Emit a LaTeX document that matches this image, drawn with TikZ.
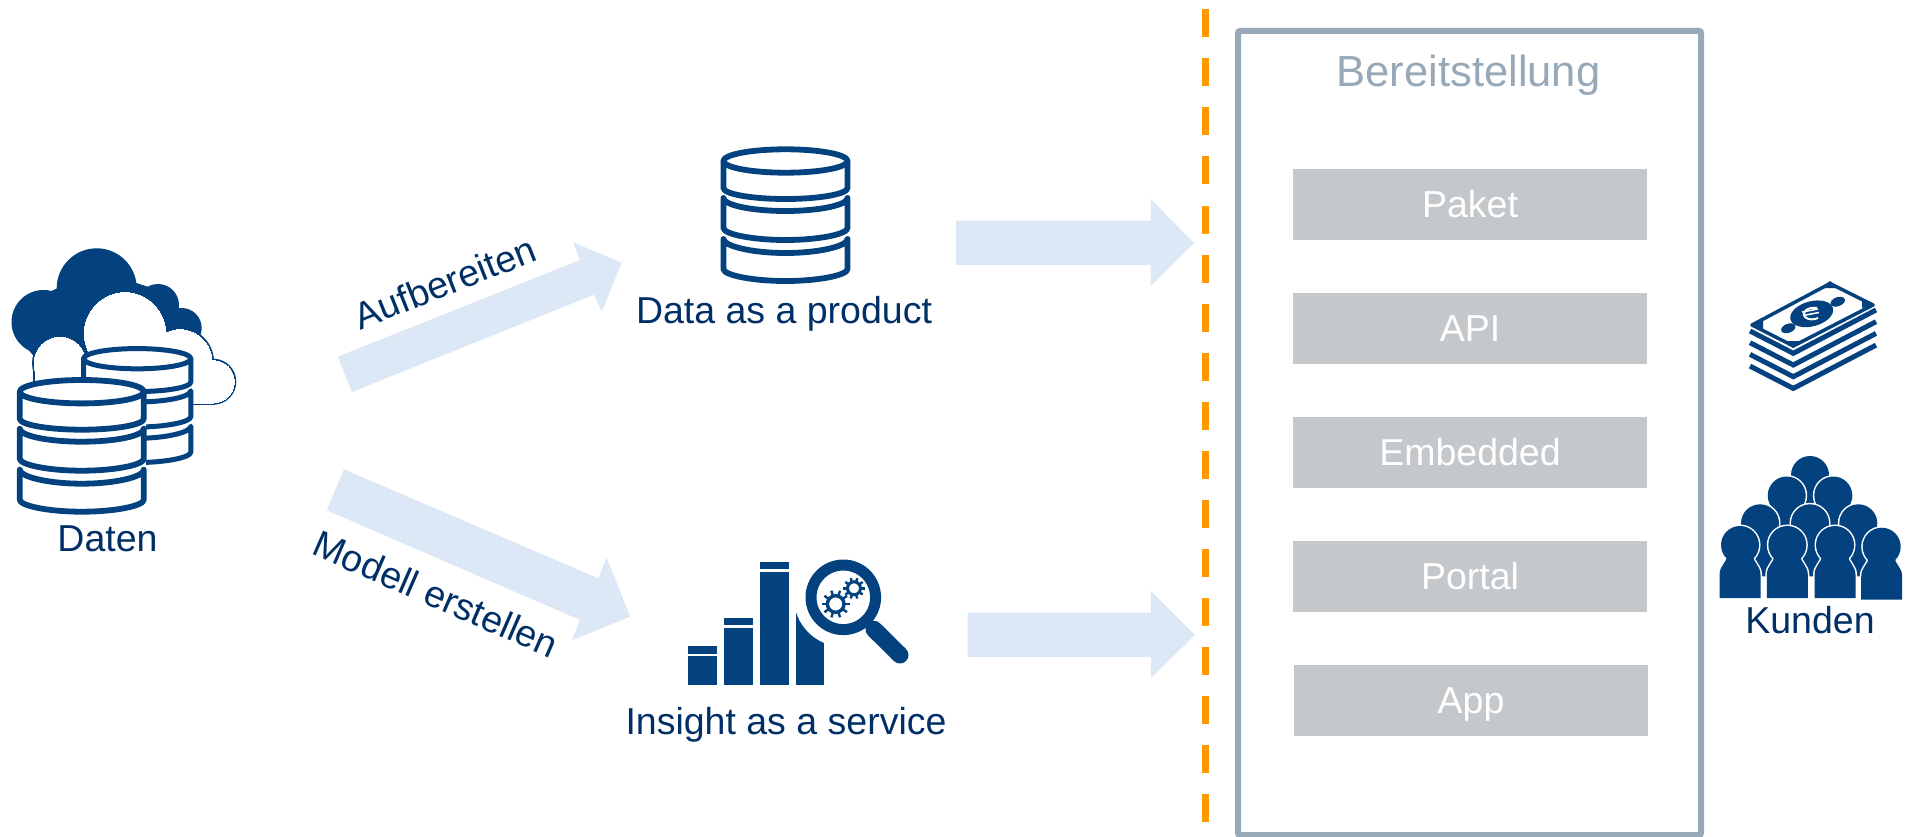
\documentclass[tikz,border=0pt]{standalone}
\usepackage{fontspec}
\setmainfont{Liberation Sans}
\definecolor{iconblue}{HTML}{03427E}
\definecolor{textblue}{HTML}{002F66}
\definecolor{lightarrow}{HTML}{DDE8F6}
\definecolor{framegrey}{HTML}{97A8B8}
\definecolor{boxgrey}{HTML}{C5C8CB}
\definecolor{dashorange}{HTML}{FF9900}
\tikzset{
  label text/.style={text=textblue,font=\fontsize{37.5}{40}\selectfont,inner sep=0pt},
  tile/.style={fill=boxgrey,text=white,minimum width=354pt,minimum height=71pt,inner sep=0pt,text height=26.9pt,text depth=0pt,font=\fontsize{37.5}{40}\selectfont},
  blockarrow/.style={fill=lightarrow,draw=none},
}
\newcommand\dbicon[4]{%
\begin{scope}[shift={(#1,#2)},scale=#3]
\fill[white] (-64,0) -- (-64,110) .. controls (-64,116) and (-34,122) .. (0,122) .. controls (34,122) and (64,116) .. (64,110) -- (64,0) .. controls (64,-7) and (34,-14) .. (0,-14) .. controls (-34,-14) and (-64,-7) .. (-64,0) -- cycle;
\begin{scope}[draw=iconblue,line width=#4pt,line join=round,line cap=round]
\draw (0,0) ellipse [x radius=62,y radius=11.7];
\draw (-62,0) -- (-62,27) .. controls (-62,33) and (-34,38) .. (0,38) .. controls (34,38) and (62,33) .. (62,27) -- (62,0);
\draw (62,37) .. controls (62,44) and (34,50) .. (0,50) .. controls (-34,50) and (-62,44) .. (-62,37) -- (-62,67) .. controls (-62,73) and (-34,79) .. (0,79) .. controls (34,79) and (62,73) .. (62,67) -- cycle;
\draw (62,78) .. controls (62,85) and (34,92) .. (0,92) .. controls (-34,92) and (-62,85) .. (-62,78) -- (-62,108) .. controls (-62,114) and (-34,120) .. (0,120) .. controls (34,120) and (62,114) .. (62,108) -- cycle;
\end{scope}
\end{scope}}
\newcommand\personbody{(-13,10) .. controls (-13,18) and (-20.5,20) .. (-20.5,30) -- (-20.5,53) -- (20.5,53) -- (20.5,30) .. controls (20.5,20) and (13,18) .. (13,10) -- cycle}
\newcommand\person[2]{%
\begin{scope}[shift={(#1,#2)}]
\draw[white,fill=white,line width=3pt] (0,0) circle [radius=19];
\draw[white,fill=white,line width=3pt] \personbody;
\fill[iconblue] (0,0) circle [radius=19];
\fill[iconblue] \personbody;
\end{scope}}
\newcommand\gearicon[5]{%
\begin{scope}[shift={(#1,#2)}]
\draw[iconblue,line width=#4pt] (0,0) circle [radius=#3];
\foreach \a in {0,36,...,324}{\draw[iconblue,line width=2.4pt] (\a:#3) -- (\a:#5);}
\end{scope}}
\newcommand\cloudpart[1]{%
\draw[#1] (60,363.3) circle [radius=26];
\draw[#1] (125,333.3) circle [radius=40.7];
\draw[#1] (180,361.7) circle [radius=32];
\draw[#1] (213.3,381.7) circle [radius=21];
\draw[#1] (35,365) rectangle (213,403);}
\begin{document}
\begin{tikzpicture}[x=1pt,y=-1pt]
\useasboundingbox (0,0) rectangle (1910,837);
% separator and frame
\coordinate (sepTop) at (1205,9.5);
\coordinate (sepEnd) at (1205,824);
\draw[dashorange,line width=7pt,dash pattern=on 28pt off 21pt] (sepTop) -- (sepEnd);
\draw[framegrey,line width=6pt,rounded corners=2pt] (1238,31) rectangle (1701,835);
\node[anchor=base,text=framegrey,font=\fontsize{43.5}{48}\selectfont,inner sep=0pt] (title) at (1468.5,87) {Bereitstellung};
\node[tile] (paket) at (1470,204.5) {Paket};
\node[tile] (api) at (1470,328.5) {API};
\node[tile] (embedded) at (1470,452.5) {Embedded};
\node[tile] (portal) at (1470,576.5) {Portal};
\node[tile] (app) at (1471,700.5) {App};
% block arrows
\fill[blockarrow] (337.7,356.7) -- (580,260) -- (573.3,242.3) -- (621.7,262.7) -- (601.7,311.7) -- (594,294.7) -- (352,392) -- cycle;
\fill[blockarrow] (344,469.3) -- (598.3,578.3) -- (606.7,557.7) -- (630.3,616.7) -- (571.7,640.3) -- (580,620) -- (326.7,510.3) -- cycle;
\fill[blockarrow] (956,220.7) -- (1150.7,220.7) -- (1150.7,199) -- (1194,243) -- (1150.7,286) -- (1150.7,265) -- (956,265) -- cycle;
\fill[blockarrow] (967.7,612.7) -- (1151,612.7) -- (1151,591) -- (1195,635) -- (1151,678) -- (1151,657) -- (967.7,657) -- cycle;
% arrow labels
\node[label text,rotate=21.5] (aufb) at (445,282.5) {Aufbereiten};
\node[label text,rotate=-23.5] (modell) at (436,594) {Modell erstellen};
% Data icon
\dbicon{785.5}{161}{1}{5.8}
\node[label text,anchor=base] (dap) at (784,323) {Data as a product};
% clouds
\fill[iconblue] (43.5,322) circle [radius=32];
\fill[iconblue] (96.7,288.3) circle [radius=40];
\fill[iconblue] (158,305) circle [radius=21];
\fill[iconblue] (181.7,328) circle [radius=20];
\fill[iconblue] (20,340) -- (43,295) -- (96,270) -- (158,290) -- (195,330) -- (150,375) -- (50,375) -- cycle;
\cloudpart{iconblue,line width=4pt}
\cloudpart{white,fill=white,line width=0pt}
\dbicon{137.2}{358.7}{0.865}{5}
\dbicon{81.8}{391.7}{1}{5.8}
\node[label text,anchor=base] (daten) at (107.5,551.5) {Daten};
% chart icon
\fill[iconblue] (688.3,646) rectangle (717,654);
\fill[iconblue] (688.3,656.3) rectangle (717,684.7);
\fill[iconblue] (724.3,618) rectangle (752.7,625.3);
\fill[iconblue] (724.3,628.3) rectangle (752.7,684.7);
\fill[iconblue] (760,561.7) rectangle (788.7,569);
\fill[iconblue] (760,571.7) rectangle (788.7,684.7);
\fill[iconblue] (796,600) rectangle (824,684.7);
\fill[white] (843.3,597.3) circle [radius=49.5];
\fill[white] (790,590) rectangle (830,609);
\draw[iconblue,line width=17pt,line cap=round] (874,629.3) -- (900,655);
\draw[iconblue,fill=white,line width=11pt] (843.3,597.3) circle [radius=32.3];
\gearicon{835.7}{604}{8.3}{3.4}{14}
\gearicon{854}{588.3}{6.5}{3}{10.7}
\node[label text,anchor=base] (ias) at (786,734) {Insight as a service};
% money icon
\foreach \i in {0,1,2,3}{
  \draw[iconblue,line width=5pt,line join=miter] (1750,331+11.7*\i) -- (1793.3,353.3+11.7*\i) -- (1876,310+11.7*\i);
}
\draw[iconblue,fill=white,line width=3.5pt,line join=round] (1830,283.5) -- (1873,305) -- (1793.3,346) -- (1752,325) -- cycle;
\fill[iconblue] (1821,288) -- (1839,288) -- (1830,281) -- cycle;
\fill[iconblue] (1862,299) -- (1862,308) -- (1875,305) -- cycle;
\fill[iconblue] (1784,341) -- (1803,341) -- (1793,348) -- cycle;
\fill[iconblue] (1750,325) -- (1763,320) -- (1763,329) -- cycle;
\fill[iconblue,rotate around={15:(1811.7,313.8)}] (1811.7,313.8) ellipse [x radius=22,y radius=12.5];
\fill[iconblue,rotate around={20:(1788.3,328.3)}] (1788.3,328.3) ellipse [x radius=7.5,y radius=4.5];
\fill[iconblue,rotate around={20:(1837.7,301.7)}] (1837.7,301.7) ellipse [x radius=7.5,y radius=4.5];
\draw[white,line width=2pt] (1817,308) .. controls (1807,306.5) and (1801,313) .. (1805,317) .. controls (1808,320) and (1814,320) .. (1818,318);
\draw[white,line width=1.5pt] (1802,312) -- (1818,309) (1803,315.5) -- (1819,312.5);
% people icon
\person{1810}{475}
\person{1786.7}{495.5}
\person{1833.3}{495.5}
\person{1760}{523.3}
\person{1810}{523.3}
\person{1858.3}{523.3}
\person{1740}{545}
\person{1787.3}{545}
\person{1835}{545}
\person{1881.7}{546.7}
\node[label text,anchor=base] (kunden) at (1810,633) {Kunden};
\end{tikzpicture}
\end{document}
